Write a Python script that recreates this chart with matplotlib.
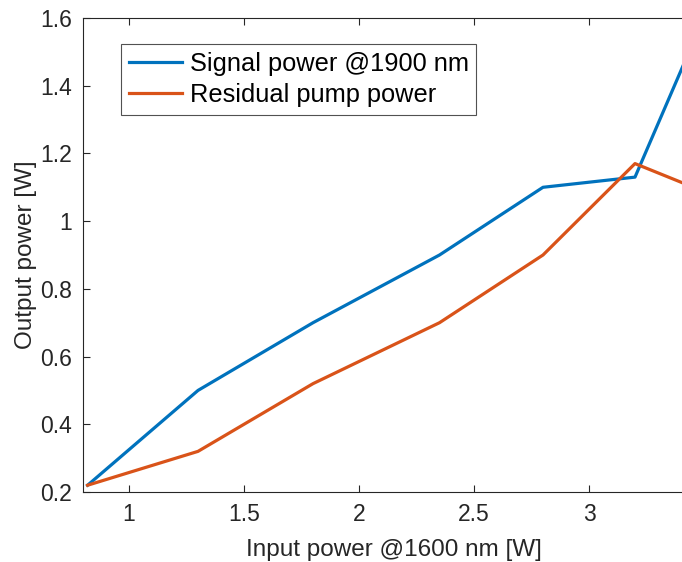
import matplotlib
matplotlib.use("Agg")
import matplotlib.pyplot as plt

plt.rcParams["font.family"] = ["Liberation Sans", "DejaVu Sans"]

input_power = [0.82, 1.3, 1.8, 2.35, 2.8, 3.2, 3.6]
signal_power = [0.22, 0.50, 0.70, 0.90, 1.10, 1.13, 1.76]
residual_pump = [0.22, 0.32, 0.52, 0.70, 0.90, 1.17, 1.06]

x_ticks = [1, 1.5, 2, 2.5, 3]
x_tick_labels = ["1", "1.5", "2", "2.5", "3"]
y_ticks = [0.2, 0.4, 0.6, 0.8, 1.0, 1.2, 1.4, 1.6]
y_tick_labels = ["0.2", "0.4", "0.6", "0.8", "1", "1.2", "1.4", "1.6"]

W, H = 682, 562
figure = plt.figure(figsize=(W / 100, H / 100), dpi=100)
# axes run past the right border on purpose (the reference is cropped there)
axis = figure.add_axes([83 / W, (H - 492) / H, 621 / W, 474 / H])

axis.plot(input_power, signal_power, color="#0072BD", linewidth=2.3,
          label="Signal power @1900 nm")
axis.plot(input_power, residual_pump, color="#D95319", linewidth=2.3,
          label="Residual pump power")

axis.set_xlim(0.8, 3.5)
axis.set_ylim(0.2, 1.6)
axis.set_xticks(x_ticks, x_tick_labels)
axis.set_yticks(y_ticks, y_tick_labels)

text_color = "#262626"
for spine in axis.spines.values():
    spine.set_color(text_color)
    spine.set_linewidth(0.8)
axis.tick_params(direction="in", length=5, width=0.8, colors=text_color,
                 labelsize=16.5, top=True, right=True, pad=8)

axis.set_xlabel("Input power @1600 nm [W]", fontsize=17.5, color=text_color,
                labelpad=9)
axis.set_ylabel("Output power [W]", fontsize=17.5, color=text_color,
                labelpad=2)

legend = axis.legend(loc="upper left", bbox_to_anchor=(0.0612, 0.945),
                     borderaxespad=0, fontsize=18.3, frameon=True,
                     fancybox=False, handlelength=2.1, handletextpad=0.3,
                     borderpad=0.3, labelspacing=0.3)
legend.get_frame().set_edgecolor(text_color)
legend.get_frame().set_linewidth(0.8)

figure.savefig("out.png", dpi=100)
